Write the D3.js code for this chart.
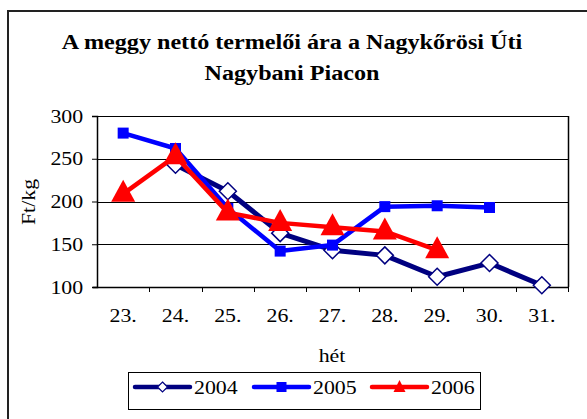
<!DOCTYPE html>
<html><head><meta charset="utf-8">
<script src="https://cdn.jsdelivr.net/npm/d3@7"></script>
<style>body{margin:0;background:#fff}svg{display:block}</style>
</head><body>
<svg id="c" width="587" height="419"></svg>
<script>
const weeks = ["23.","24.","25.","26.","27.","28.","29.","30.","31."];
const s2004 = [null,243,212,163,143,137,112,128,102];
const s2005 = [280,262,192,142,149,194,195,193,null];
const s2006 = [209,253,187,175,170,165,143,null,null];
const yTicks = [100,150,200,250,300];
const seriesNames = ["2004","2005","2006"];
const colors = ["#000080","#0000FF","#FF0000"];
const FONT = "Liberation Serif";
const SX = 1.15;

const svg = d3.select("#c");
svg.append("rect").attr("x",8).attr("y",11).attr("width",600).attr("height",420)
  .attr("fill","none").attr("stroke","#222").attr("stroke-width",2);

const L=97,R=568,T=116,B=287;
const x = d3.scaleBand().domain(weeks).range([L,R]);
const y = d3.scaleLinear().domain([100,300]).range([B,T]);

function label(px,py,str,size,opts={}){
  const g = svg.append("g").attr("transform",`translate(${px},${py})${opts.rot?" rotate(-90)":""}`);
  const t = g.append("text").attr("transform",`scale(${SX},1)`)
    .attr("text-anchor",opts.anchor||"start").attr("fill","#000")
    .style("font-family",FONT).style("font-size",size+"px").text(str);
  if(opts.bold) t.style("font-weight","bold");
  return t;
}

// title
label(292,49,"A meggy nettó termelői ára a Nagykőrösi Úti",21,{anchor:"middle",bold:true});
label(292,80,"Nagybani Piacon",21,{anchor:"middle",bold:true});

// gridlines
svg.append("g").selectAll("line").data(yTicks.slice(1)).join("line")
  .attr("x1",L).attr("x2",R).attr("y1",d=>Math.round(y(d))+0.5).attr("y2",d=>Math.round(y(d))+0.5)
  .attr("stroke","#000").attr("stroke-width",1);
svg.append("line").attr("x1",R+0.5).attr("x2",R+0.5).attr("y1",T).attr("y2",B).attr("stroke","#000").attr("stroke-width",1.5);

// y axis
const ya = svg.append("g").attr("transform",`translate(${L},0)`)
  .call(d3.axisLeft(y).tickValues(yTicks).tickSize(5).tickPadding(7));
ya.select(".domain").attr("stroke","#000").attr("stroke-width",1.5);
ya.selectAll("text").attr("transform",`scale(${SX},1)`).style("font-size","19px").style("font-family",FONT).attr("fill","#000");
// x axis
const xa = svg.append("g").attr("transform",`translate(0,${B})`)
  .call(d3.axisBottom(x).tickSize(0).tickPadding(22));
xa.select(".domain").remove();
xa.selectAll("text").attr("transform",`scale(${SX},1)`).style("font-size","19px").style("font-family",FONT).attr("fill","#000");
svg.append("line").attr("x1",L-4).attr("x2",R).attr("y1",B+0.5).attr("y2",B+0.5).attr("stroke","#000").attr("stroke-width",1.5);
svg.append("g").selectAll("line").data(weeks).join("line")
  .attr("x1",(d,i)=>Math.round(L+x.step()*(i+1))+0.5).attr("x2",(d,i)=>Math.round(L+x.step()*(i+1))+0.5)
  .attr("y1",B).attr("y2",B+5).attr("stroke","#000");

// axis titles
label(35,202,"Ft/kg",19,{anchor:"middle",rot:true});
label(332,362,"hét",19,{anchor:"middle"});

const cx = w => x(w)+x.bandwidth()/2;
const data = [s2004,s2005,s2006];
const line = d3.line().defined(d=>d.v!=null).x(d=>cx(d.w)).y(d=>y(d.v));

function marker(g,i,px,py){
  if(i===0){
    g.append("path").attr("d",`M${px},${py-8.5}L${px+8.5},${py}L${px},${py+8.5}L${px-8.5},${py}Z`)
      .attr("fill","#fff").attr("stroke","#000080").attr("stroke-width",1.5);
  } else if(i===1){
    g.append("rect").attr("x",px-5.5).attr("y",py-5.5).attr("width",11).attr("height",11).attr("fill","#0000FF");
  } else {
    g.append("path").attr("d",`M${px},${py-14}L${px+12},${py+8}L${px-12},${py+8}Z`).attr("fill","#FF0000");
  }
}

data.forEach((s,i)=>{
  const pts = s.map((v,j)=>({w:weeks[j],v}));
  const g = svg.append("g");
  g.append("path").datum(pts).attr("d",line).attr("fill","none")
    .attr("stroke",colors[i]).attr("stroke-width",i===0?5:4.5).attr("stroke-linejoin","round");
  pts.filter(d=>d.v!=null).forEach(d=>marker(g,i,cx(d.w),y(d.v)));
});

// legend
svg.append("rect").attr("x",128.5).attr("y",372.5).attr("width",352).attr("height",37)
  .attr("fill","#fff").attr("stroke","#000").attr("stroke-width",1);
const lx=[135,254,372];
seriesNames.forEach((n,i)=>{
  const g = svg.append("g");
  g.append("line").attr("x1",lx[i]).attr("x2",lx[i]+55).attr("y1",387).attr("y2",387)
    .attr("stroke",colors[i]).attr("stroke-width",4.5).attr("stroke-linecap","round");
  const mx=lx[i]+27.5;
  if(i===0){
    g.append("path").attr("d",`M${mx},${387-5}L${mx+5},387L${mx},${387+5}L${mx-5},387Z`)
      .attr("fill","#fff").attr("stroke","#000080").attr("stroke-width",1.2);
  } else if(i===1){
    g.append("rect").attr("x",mx-5).attr("y",382).attr("width",10).attr("height",10).attr("fill","#0000FF");
  } else {
    g.append("path").attr("d",`M${mx},380L${mx+6},392L${mx-6},392Z`).attr("fill","#FF0000");
  }
  label(lx[i]+59,394,n,19);
});
</script>
</body></html>
